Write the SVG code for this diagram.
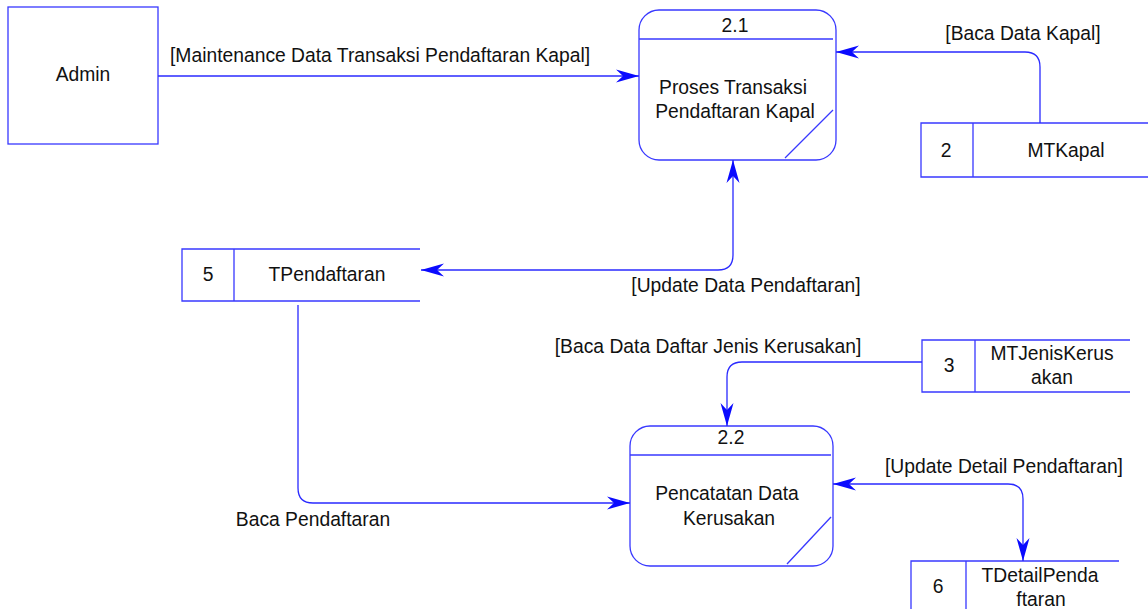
<svg xmlns="http://www.w3.org/2000/svg" width="1148" height="609" viewBox="0 0 1148 609">
  <style>
    .shape { fill: none; stroke: #3838ff; stroke-width: 1.3; }
    .flow { fill: none; stroke: #2a2aff; stroke-width: 1.3; }
    text { font-family: "Liberation Sans", Arial, sans-serif; font-size: 19.3px; fill: #111; }
    .c { text-anchor: middle; }
  </style>
  <defs>
    <marker id="arrow" markerUnits="userSpaceOnUse" markerWidth="26" markerHeight="16" viewBox="-24 -8 26 16" refX="0" refY="0" orient="auto-start-reverse">
      <path d="M0,0 L-23,-6.5 L-16,0 L-23,6.5 Z" fill="#0a0aff"/>
    </marker>
  </defs>

  <!-- external entity -->
  <g id="admin">
    <rect class="shape" x="8" y="7" width="150" height="137"/>
    <text class="c" x="83" y="81">Admin</text>
  </g>

  <!-- process 2.1 -->
  <g id="proc-2-1">
    <rect class="shape" x="639" y="10" width="197" height="150" rx="20" ry="20"/>
    <line class="shape" x1="639" y1="39" x2="833" y2="39"/>
    <line class="shape" x1="785" y1="158" x2="833" y2="110"/>
    <text class="c" x="735" y="32">2.1</text>
    <text class="c" x="733" y="94">Proses Transaksi</text>
    <text class="c" x="735" y="118">Pendaftaran Kapal</text>
  </g>

  <!-- process 2.2 -->
  <g id="proc-2-2">
    <rect class="shape" x="630" y="426" width="203" height="140" rx="20" ry="20"/>
    <line class="shape" x1="630" y1="455" x2="831" y2="455"/>
    <line class="shape" x1="787" y1="564" x2="831" y2="517"/>
    <text class="c" x="731" y="444">2.2</text>
    <text class="c" x="727" y="500">Pencatatan Data</text>
    <text class="c" x="729" y="525">Kerusakan</text>
  </g>

  <!-- data stores -->
  <g id="store-mtkapal">
    <path class="shape" d="M1148,123 H921 V177 H1148 M973,123 V177"/>
    <text class="c" x="946" y="157">2</text>
    <text class="c" x="1066" y="157">MTKapal</text>
  </g>

  <g id="store-tpendaftaran">
    <path class="shape" d="M420,249 H182 V301 H420 M234,249 V301"/>
    <text class="c" x="208" y="281">5</text>
    <text class="c" x="327" y="281">TPendaftaran</text>
  </g>

  <g id="store-mtjeniskerusakan">
    <path class="shape" d="M1130,340 H922 V392 H1130 M975,340 V392"/>
    <text class="c" x="949" y="372">3</text>
    <text class="c" x="1052" y="360">MTJenisKerus</text>
    <text class="c" x="1052" y="384">akan</text>
  </g>

  <g id="store-tdetailpendaftaran">
    <path class="shape" d="M1119,561 H911 V609 M966,561 V609"/>
    <text class="c" x="938" y="593">6</text>
    <text class="c" x="1040" y="582">TDetailPenda</text>
    <text class="c" x="1041" y="606">ftaran</text>
  </g>

  <!-- data flows -->
  <g id="connectors">
    <path class="flow" d="M158,76 H639" marker-end="url(#arrow)"/>
    <path class="flow" d="M1040,123 V67 Q1040,52 1025,52 H836" marker-end="url(#arrow)"/>
    <path class="flow" d="M733,160 V255 Q733,270 718,270 H421" marker-start="url(#arrow)" marker-end="url(#arrow)"/>
    <path class="flow" d="M298,305 V488 Q298,503 313,503 H630" marker-end="url(#arrow)"/>
    <path class="flow" d="M922,362 H742 Q727,362 727,377 V426" marker-end="url(#arrow)"/>
    <path class="flow" d="M833,484 H1008 Q1023,484 1023,499 V561" marker-start="url(#arrow)" marker-end="url(#arrow)"/>
  </g>

  <!-- flow labels -->
  <g id="labels">
    <text x="170" y="62">[Maintenance Data Transaksi Pendaftaran Kapal]</text>
    <text class="c" x="1023" y="40">[Baca Data Kapal]</text>
    <text class="c" x="746" y="292">[Update Data Pendaftaran]</text>
    <text class="c" x="708" y="353">[Baca Data Daftar Jenis Kerusakan]</text>
    <text class="c" x="1004" y="473">[Update Detail Pendaftaran]</text>
    <text class="c" x="313" y="526">Baca Pendaftaran</text>
  </g>
</svg>
